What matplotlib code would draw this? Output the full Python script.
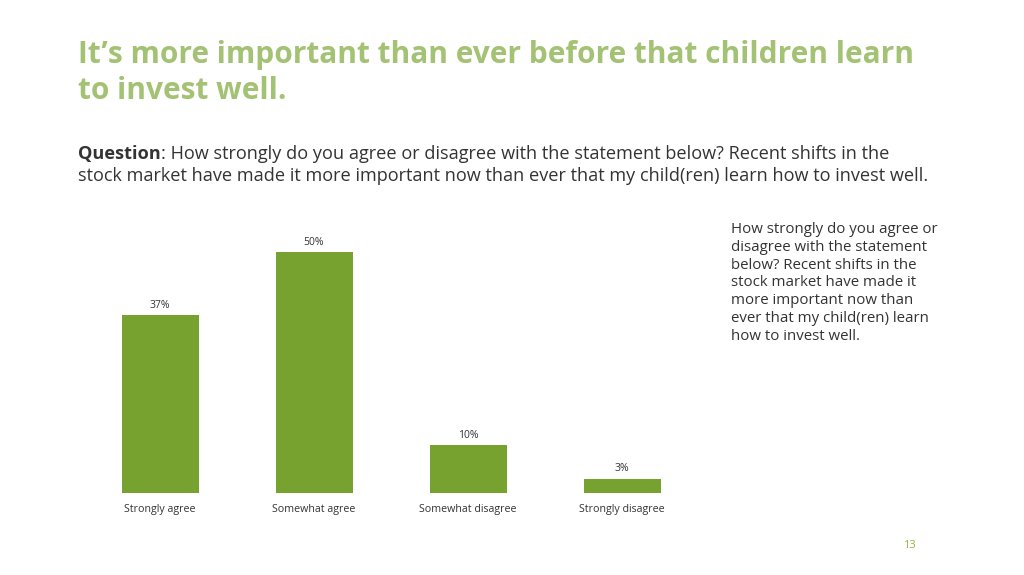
import matplotlib
matplotlib.use("Agg")
import matplotlib.pyplot as plt

categories = ["Strongly agree", "Somewhat agree", "Somewhat disagree", "Strongly disagree"]
values = [37, 50, 10, 3]
value_labels = ["37%", "50%", "10%", "3%"]

title_text = "It\u2019s more important than ever before that children learn\nto invest well."
question_bold = "Question"
question_rest = (": How strongly do you agree or disagree with the statement below? Recent shifts in the\n"
                 "stock market have made it more important now than ever that my child(ren) learn how to invest well.")
side_text = ("How strongly do you agree or\ndisagree with the statement\nbelow? Recent shifts in the\n"
             "stock market have made it\nmore important now than\never that my child(ren) learn\nhow to invest well.")
page_num = "13"

plt.rcParams['font.family'] = ['Open Sans', 'DejaVu Sans']

W, H = 1024, 575
fig = plt.figure(figsize=(W / 100, H / 100), dpi=100)

bar_color = "#78A22F"
title_color = "#A3C273"
text_color = "#333333"

# axes: left 83, right 699, bottom 493, top 228 (pixels)
ax = fig.add_axes([83 / W, 1 - 493 / H, (699 - 83) / W, (493 - 228) / H])
x = list(range(len(categories)))
bars = ax.bar(x, values, width=0.5, color=bar_color)
ax.set_xlim(-0.5, 3.5)
ax.set_ylim(0, 55)
for xi, v, lab in zip(x, values, value_labels):
    ax.annotate(lab, (xi, v), xytext=(0, 3), textcoords="offset points",
                ha="center", va="bottom", fontsize=7.5, color=text_color)
ax.set_xticks(x)
ax.set_xticklabels(categories, fontsize=7.7, color=text_color)
ax.tick_params(axis="x", length=0, pad=8)
ax.set_yticks([])
for s in ax.spines.values():
    s.set_visible(False)

fig.text(78 / W, 1 - 40 / H, title_text, fontsize=21.5, fontweight="bold", color=title_color,
         va="top", ha="left", linespacing=1.27)

qfs = 13.1
t = fig.text(78 / W, 1 - 145 / H, question_bold, fontsize=qfs, fontweight="bold", color=text_color,
             va="top", ha="left")
fig.canvas.draw()
bb = t.get_window_extent()
fig.text(bb.x1 / W, 1 - 145 / H, question_rest.split("\n")[0], fontsize=qfs, color=text_color,
         va="top", ha="left")
fig.text(78 / W, 1 - 167 / H, question_rest.split("\n")[1], fontsize=qfs, color=text_color,
         va="top", ha="left")

fig.text(731 / W, 1 - 222 / H, side_text, fontsize=10.8, color=text_color, va="top", ha="left",
         linespacing=1.255)

fig.text(909 / W, 1 - 545 / H, page_num, fontsize=8, color="#8DB83A", ha="center", va="center")

fig.savefig("out.png", dpi=100, facecolor="white")
